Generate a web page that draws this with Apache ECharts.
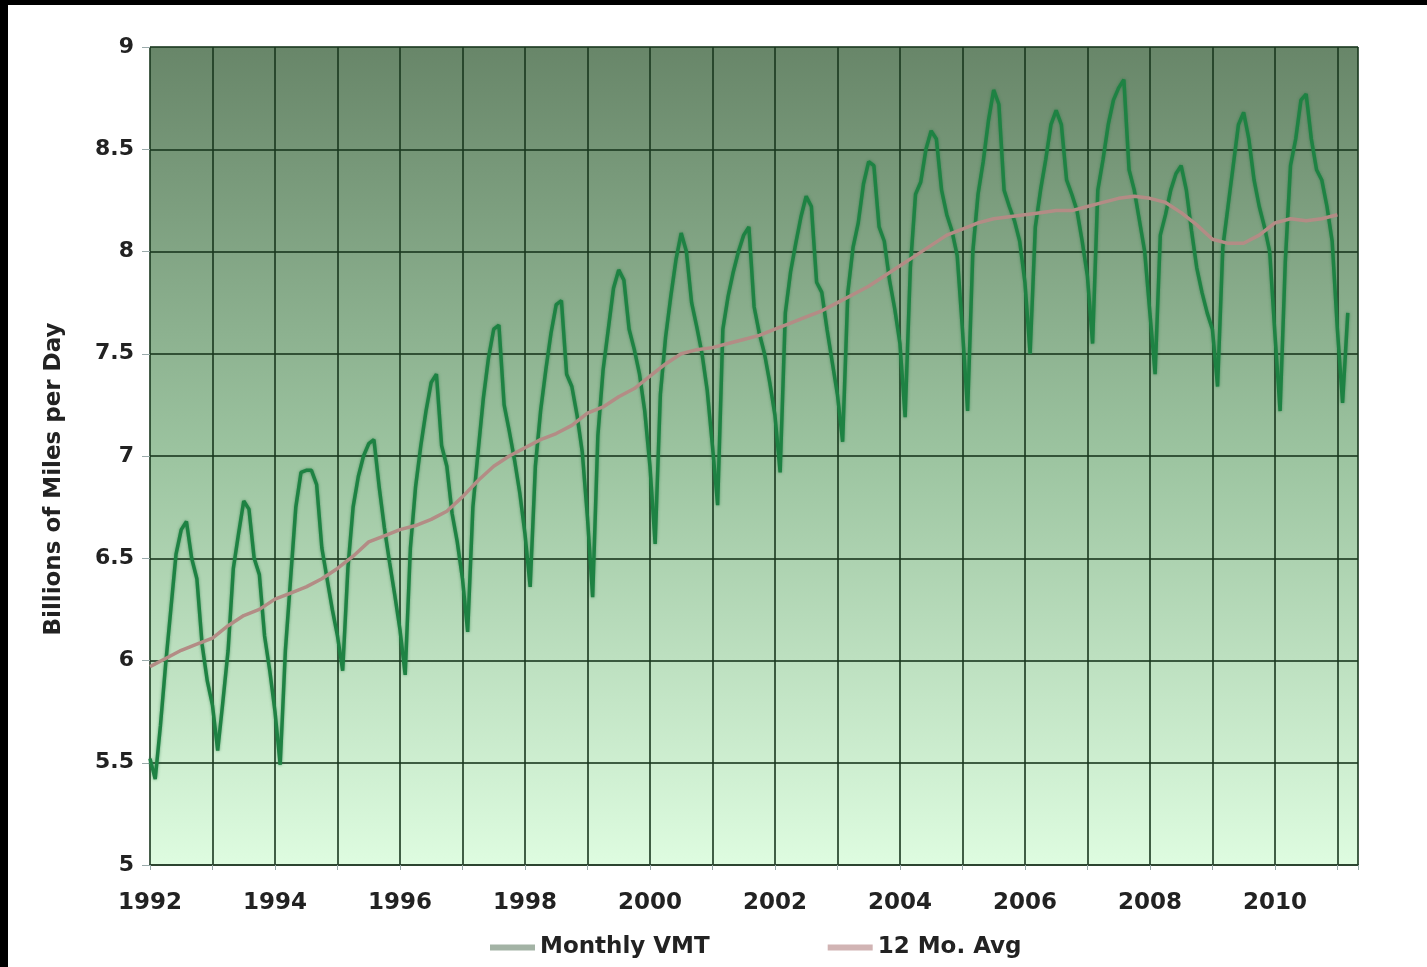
<!DOCTYPE html>
<html>
<head>
<meta charset="utf-8">
<title>Monthly VMT</title>
<script src="https://cdn.jsdelivr.net/npm/echarts@6/dist/echarts.min.js"></script>
<style>
  html, body { margin: 0; padding: 0; background: #000; }
  #chart { position: absolute; left: 8px; top: 5px; width: 1419px; height: 962px; background: #fff; }
</style>
</head>
<body>
<div id="chart"></div>
<script>
// monthly values, Jan 1992 .. Mar 2011 (billions of miles per day)
const startYear = 1992
const monthlyVmt = [
  5.52, 5.42, 5.68, 5.98, 6.25, 6.52, 6.64, 6.68, 6.50, 6.40, 6.08, 5.90, // 1992
  5.78, 5.56, 5.80, 6.05, 6.45, 6.62, 6.78, 6.74, 6.50, 6.42, 6.12, 5.95, // 1993
  5.75, 5.49, 6.05, 6.40, 6.75, 6.92, 6.93, 6.93, 6.86, 6.55, 6.40, 6.25, // 1994
  6.12, 5.95, 6.45, 6.75, 6.90, 7.00, 7.06, 7.08, 6.85, 6.65, 6.48, 6.32, // 1995
  6.15, 5.93, 6.55, 6.85, 7.05, 7.22, 7.36, 7.40, 7.05, 6.95, 6.72, 6.58, // 1996
  6.40, 6.14, 6.75, 7.02, 7.28, 7.48, 7.62, 7.64, 7.25, 7.12, 6.98, 6.82, // 1997
  6.62, 6.36, 6.95, 7.22, 7.42, 7.60, 7.74, 7.76, 7.40, 7.34, 7.20, 7.02, // 1998
  6.70, 6.31, 7.10, 7.42, 7.62, 7.82, 7.91, 7.86, 7.62, 7.52, 7.40, 7.22, // 1999
  6.95, 6.57, 7.30, 7.58, 7.78, 7.96, 8.09, 8.00, 7.75, 7.63, 7.50, 7.32, // 2000
  7.05, 6.76, 7.62, 7.78, 7.90, 8.00, 8.08, 8.12, 7.73, 7.60, 7.50, 7.36, // 2001
  7.20, 6.92, 7.70, 7.90, 8.04, 8.17, 8.27, 8.22, 7.85, 7.80, 7.62, 7.46, // 2002
  7.30, 7.07, 7.80, 8.02, 8.14, 8.33, 8.44, 8.42, 8.12, 8.05, 7.86, 7.72, // 2003
  7.55, 7.19, 7.92, 8.28, 8.34, 8.50, 8.59, 8.55, 8.30, 8.18, 8.10, 7.98, // 2004
  7.62, 7.22, 8.00, 8.28, 8.44, 8.64, 8.79, 8.72, 8.30, 8.22, 8.15, 8.05, // 2005
  7.85, 7.50, 8.12, 8.30, 8.45, 8.62, 8.69, 8.62, 8.35, 8.28, 8.20, 8.05, // 2006
  7.88, 7.55, 8.30, 8.45, 8.62, 8.74, 8.80, 8.84, 8.40, 8.30, 8.15, 8.00, // 2007
  7.70, 7.40, 8.08, 8.18, 8.30, 8.38, 8.42, 8.30, 8.10, 7.92, 7.80, 7.70, // 2008
  7.62, 7.34, 8.02, 8.22, 8.42, 8.62, 8.68, 8.55, 8.35, 8.22, 8.12, 8.00, // 2009
  7.60, 7.22, 7.95, 8.42, 8.55, 8.74, 8.77, 8.55, 8.40, 8.35, 8.22, 8.05, // 2010
  7.62, 7.26, 7.70                                                      // 2011
]
// 12 month average, one value per quarter from Jan 1992
const avgVmt = [
  5.97, 6.01, 6.05, 6.08, 6.11, 6.17, 6.22, 6.25, 6.30, 6.33, 6.36, 6.40,
  6.45, 6.51, 6.58, 6.61, 6.64, 6.66, 6.69, 6.73, 6.80, 6.88, 6.95, 7.00,
  7.04, 7.08, 7.11, 7.15, 7.21, 7.24, 7.29, 7.33, 7.39, 7.45, 7.50, 7.52,
  7.53, 7.55, 7.57, 7.59, 7.62, 7.65, 7.68, 7.71, 7.75, 7.79, 7.83, 7.88,
  7.93, 7.98, 8.03, 8.08, 8.11, 8.14, 8.16, 8.17, 8.18, 8.19, 8.20, 8.20,
  8.22, 8.24, 8.26, 8.27, 8.26, 8.24, 8.19, 8.13, 8.06, 8.04, 8.04, 8.08,
  8.14, 8.16, 8.15, 8.16, 8.18
]
const yearLabels = ['1992', '1994', '1996', '1998', '2000', '2002', '2004', '2006', '2008', '2010']

const chart = echarts.init(document.getElementById('chart'))

const font = 'DejaVu Sans, Verdana, sans-serif'

const option = {
  animation: false,
  backgroundColor: '#fff',
  grid: {
    left: 142,
    right: 69,
    top: 42,
    bottom: 102,
    show: true,
    borderWidth: 0,
    backgroundColor: new echarts.graphic.LinearGradient(0, 0, 0, 1, [
      { offset: 0, color: '#688669' },
      { offset: 0.5, color: '#9cc4a0' },
      { offset: 1, color: '#defce0' }
    ])
  },
  legend: {
    left: 477,
    top: 926,
    icon: 'rect',
    itemWidth: 45,
    itemHeight: 6,
    itemGap: 118,
    textStyle: { fontFamily: font, fontWeight: 'bold', fontSize: 23, color: '#222' },
    data: [
      { name: 'Monthly VMT', itemStyle: { color: '#a3b3a5' } },
      { name: '12 Mo. Avg', itemStyle: { color: '#d1b4b4' } }
    ]
  },
  graphic: [
    {
      type: 'text',
      x: 46,
      y: 474,
      rotation: Math.PI / 2,
      style: {
        text: 'Billions of Miles per Day',
        font: 'bold 23px ' + font,
        fill: '#222',
        textAlign: 'center',
        textVerticalAlign: 'middle'
      }
    }
  ],
  xAxis: {
    type: 'value',
    min: 1992,
    max: 2011.33,
    interval: 1,
    axisLine: { show: true, lineStyle: { color: '#2c4430', width: 2 } },
    axisTick: { show: true, length: 5, lineStyle: { color: '#9aa' } },
    axisLabel: {
      margin: 27,
      fontFamily: font,
      fontWeight: 'bold',
      fontSize: 23,
      color: '#222',
      formatter: (v) => (yearLabels.includes(String(v)) ? String(v) : '')
    },
    splitLine: { show: true, lineStyle: { color: 'rgba(25,55,30,0.8)', width: 2 } }
  },
  yAxis: {
    type: 'value',
    min: 5,
    max: 9,
    interval: 0.5,
    axisLine: { show: false },
    axisTick: { show: true, length: 8, lineStyle: { color: '#9aa' } },
    axisLabel: {
      margin: 16,
      fontFamily: font,
      fontWeight: 'bold',
      fontSize: 22,
      color: '#222'
    },
    splitLine: { show: true, lineStyle: { color: 'rgba(25,55,30,0.8)', width: 2 } }
  },
  series: [
    {
      name: 'Monthly VMT',
      type: 'line',
      showSymbol: false,
      data: monthlyVmt.map((v, i) => [startYear + i / 12, v]),
      lineStyle: {
        color: '#1e8243',
        width: 3.5,
        shadowBlur: 3,
        shadowColor: 'rgba(30,120,60,0.6)'
      },
      itemStyle: { color: '#1e8243' }
    },
    {
      name: '12 Mo. Avg',
      type: 'line',
      showSymbol: false,
      data: avgVmt.map((v, i) => [startYear + i / 4, v]),
      lineStyle: { color: '#b38c85', width: 3.5 },
      itemStyle: { color: '#b38c85' }
    }
  ]
}

chart.setOption(option)
</script>
</body>
</html>
